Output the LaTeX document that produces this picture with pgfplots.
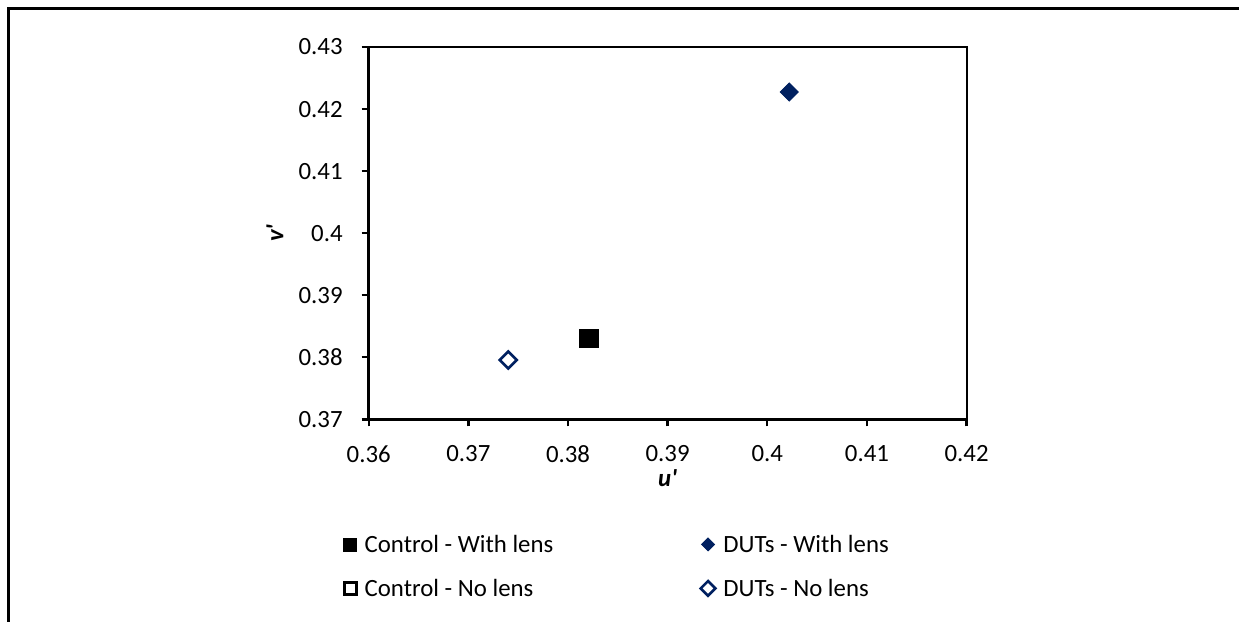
\documentclass[border=0pt]{standalone}
\usepackage{fontspec}
\setmainfont{Carlito}
\newfontfamily\plainf{Carlito}
\usepackage{pgfplots}
\pgfplotsset{compat=1.18}
\definecolor{navy}{RGB}{0,32,96}
\begin{document}
\begin{tikzpicture}
\useasboundingbox (0,0) rectangle (619.5pt,-311pt);
\draw[line width=1.5pt] (4pt,-320pt) -- (4pt,-4pt) -- (630pt,-4pt);
\begin{axis}[
  at={(184.35pt,-209.65pt)}, anchor=south west,
  scale only axis, width=298.95pt, height=186.15pt,
  xmin=0.36, xmax=0.42, ymin=0.37, ymax=0.43,
  axis lines=left, axis line style={-, line width=1.5pt},
  tick align=outside, major tick length=3.5pt,
  tick style={line width=1.2pt, black},
  xtick={0.36,0.37,0.38,0.39,0.40,0.41,0.42},
  xticklabels={0.36,0.37,0.38,0.39,0.4,0.41,0.42},
  ytick={0.37,0.38,0.39,0.40,0.41,0.42,0.43},
  yticklabels={0.37,0.38,0.39,0.4,0.41,0.42,0.43},
  xticklabel shift=6pt, yticklabel shift=6pt,
  ticklabel style={font=\fontsize{12.4pt}{14pt}\selectfont},
  xlabel={{\plainf\bfseries\itshape u'}}, ylabel={{\plainf\bfseries\itshape v'}},
  label style={font=\fontsize{12.4pt}{14pt}\selectfont},
  xlabel style={at={(axis description cs:0.5,-0.159)}, anchor=center},
  ylabel style={at={(axis description cs:-0.157,0.5)}, anchor=center, rotate=0},
  clip=false,
  legend columns=2,
  legend style={at={(axis description cs:-0.0418,-0.2984)}, anchor=north west,
    draw=none, fill=none, inner sep=0pt, outer sep=0pt,
    font=\fontsize{12.4pt}{14pt}\selectfont,
    nodes={text height=9pt, text depth=3pt, inner sep=2pt, anchor=west},
    row sep=6pt,
    /tikz/every odd column/.append style={column sep=2pt},
    /tikz/every even column/.append style={column sep=0pt}},
  legend image code/.code={\draw[#1] plot coordinates {(0pt,1pt)};},
  legend cell align=left,
]
% Control - No lens (hidden under Control - With lens)
\addplot[only marks, mark=square*, mark size=4.3pt, mark options={fill=white, draw=black, line width=1.2pt}, forget plot]
  coordinates {(0.38212,0.38302)};
% Control - With lens
\addplot[only marks, mark=square*, mark size=4.5pt, mark options={fill=black, draw=black}, forget plot]
  coordinates {(0.38212,0.38302)};
% DUTs - With lens
\addplot[only marks, mark=square*, mark size=3.2pt, mark options={fill=navy, draw=navy, rotate=45}, forget plot]
  coordinates {(0.4022,0.42275)};
% DUTs - No lens
\addplot[only marks, mark=square*, mark size=3.0pt, mark options={fill=white, draw=navy, line width=1.3pt, rotate=45}, forget plot]
  coordinates {(0.37401,0.37956)};
\addlegendimage{only marks, mark=square*, mark size=3.25pt, mark options={fill=black, draw=black}}
\addlegendentry{\makebox[166pt][l]{Control - With lens}}
\addlegendimage{only marks, mark=square*, mark size=2.3pt, mark options={fill=navy, draw=navy, rotate=45}}
\addlegendentry{DUTs - With lens}
\addlegendimage{only marks, mark=square*, mark size=3.0pt, mark options={fill=white, draw=black, line width=1.3pt}}
\addlegendentry{Control - No lens}
\addlegendimage{only marks, mark=square*, mark size=2.6pt, mark options={fill=white, draw=navy, line width=1.3pt, rotate=45}}
\addlegendentry{DUTs - No lens}
\draw[line width=1pt] (rel axis cs:0,1) -- (rel axis cs:1,1) -- (rel axis cs:1,0);
\end{axis}
\end{tikzpicture}
\end{document}
